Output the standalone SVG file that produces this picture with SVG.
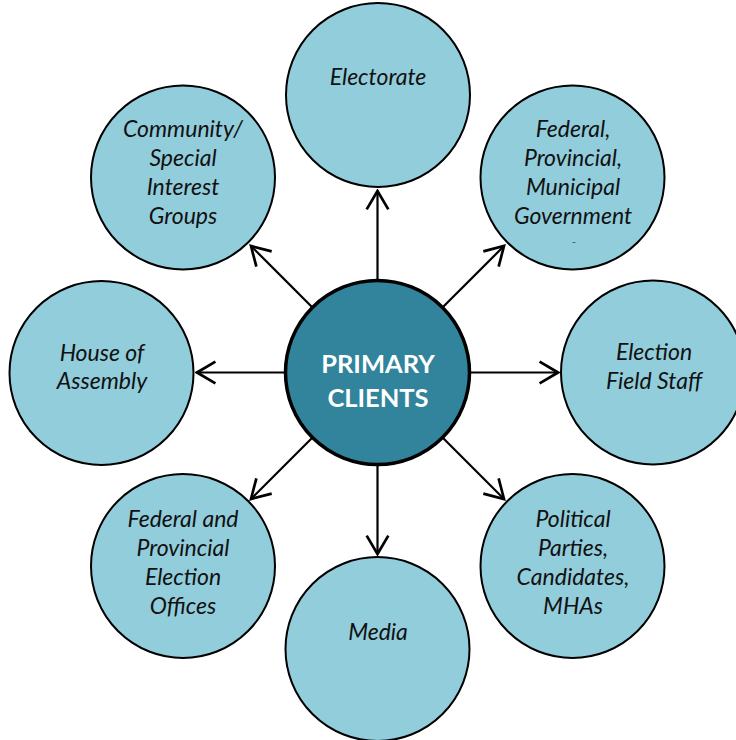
<svg xmlns="http://www.w3.org/2000/svg" width="736" height="740" viewBox="0 0 736 740">
  <style>
    .outer { fill: #92CDDC; stroke: #000; stroke-width: 2; }
    .hub { fill: #31849B; stroke: #000; stroke-width: 3.5; }
    .lbl { font-family: Lato, "Open Sans", "Liberation Sans", sans-serif; font-style: italic; font-size: 23px; fill: #111; text-anchor: middle; }
    .hubtxt { font-family: Lato, "Open Sans", "Liberation Sans", sans-serif; font-weight: bold; font-size: 25.5px; fill: #fff; text-anchor: middle; }
    .conn line { stroke: #000; stroke-width: 2.2; marker-end: url(#chev); }
  </style>
  <defs>
    <marker id="chev" markerUnits="userSpaceOnUse" markerWidth="24" markerHeight="26" viewBox="-20 -12 22 24" refX="0" refY="0" orient="auto">
      <path d="M-17,-10 L0,0 L-17,10" fill="none" stroke="#000" stroke-width="2.5"/>
    </marker>
  </defs>
  <rect width="736" height="740" fill="#fff"/>

  <!-- connectors from the hub to each client circle -->
  <g id="connectors" class="conn">
    <line x1="377.5" y1="280" x2="377.5" y2="191"/>
    <line x1="443" y1="307" x2="504" y2="246"/>
    <line x1="471" y1="372.5" x2="558" y2="372.5"/>
    <line x1="443" y1="438" x2="504" y2="499"/>
    <line x1="377.5" y1="465" x2="377.5" y2="554"/>
    <line x1="312" y1="438" x2="251" y2="499"/>
    <line x1="284" y1="372.5" x2="197" y2="372.5"/>
    <line x1="312" y1="307" x2="251" y2="246"/>
  </g>

  <g id="electorate">
    <circle class="outer" cx="378" cy="95" r="92"/>
    <text class="lbl" x="378" y="85">Electorate</text>
  </g>

  <g id="government">
    <circle class="outer" cx="572.5" cy="177.5" r="92"/>
    <text class="lbl" x="573" y="137">Federal,</text>
    <text class="lbl" x="573" y="166">Provincial,</text>
    <text class="lbl" x="573" y="195">Municipal</text>
    <text class="lbl" x="573" y="224">Government</text>
    <text class="lbl" x="574" y="246" style="font-size:11px;font-style:normal;fill:#555">-</text>
  </g>

  <g id="field-staff">
    <circle class="outer" cx="653" cy="372.5" r="92"/>
    <text class="lbl" x="654" y="360">Election</text>
    <text class="lbl" x="654" y="389">Field Staff</text>
  </g>

  <g id="parties">
    <circle class="outer" cx="572.5" cy="566" r="92"/>
    <text class="lbl" x="573" y="527">Political</text>
    <text class="lbl" x="573" y="556">Parties,</text>
    <text class="lbl" x="573" y="585">Candidates,</text>
    <text class="lbl" x="573" y="614">MHAs</text>
  </g>

  <g id="media">
    <circle class="outer" cx="377.5" cy="649" r="92"/>
    <text class="lbl" x="378" y="640">Media</text>
  </g>

  <g id="election-offices">
    <circle class="outer" cx="183" cy="566" r="92"/>
    <text class="lbl" x="183" y="527">Federal and</text>
    <text class="lbl" x="183" y="556">Provincial</text>
    <text class="lbl" x="183" y="585">Election</text>
    <text class="lbl" x="183" y="614">Offices</text>
  </g>

  <g id="house-of-assembly">
    <circle class="outer" cx="101.5" cy="373" r="92"/>
    <text class="lbl" x="102" y="361">House of</text>
    <text class="lbl" x="102" y="389">Assembly</text>
  </g>

  <g id="community">
    <circle class="outer" cx="183" cy="177.5" r="92"/>
    <text class="lbl" x="183" y="137">Community/</text>
    <text class="lbl" x="183" y="166">Special</text>
    <text class="lbl" x="183" y="195">Interest</text>
    <text class="lbl" x="183" y="224">Groups</text>
  </g>

  <g id="primary-clients">
    <circle class="hub" cx="377.5" cy="372.5" r="92"/>
    <text class="hubtxt" x="378" y="373">PRIMARY</text>
    <text class="hubtxt" x="378" y="407">CLIENTS</text>
  </g>
</svg>
